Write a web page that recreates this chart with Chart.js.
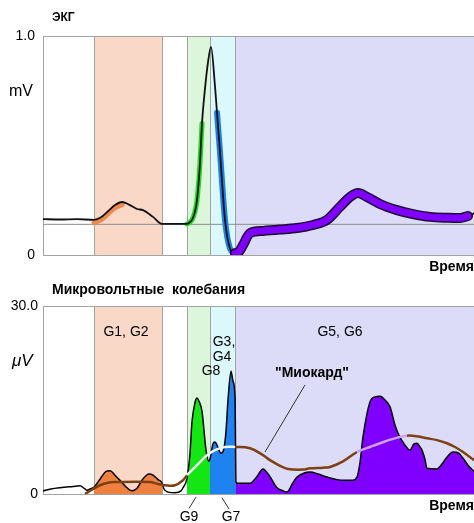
<!DOCTYPE html>
<html>
<head>
<meta charset="utf-8">
<script src="https://cdn.jsdelivr.net/npm/chart.js@4.4.1/dist/chart.umd.min.js"></script>
<style>
  body { margin: 0; background: #fff; }
  #wrap { position: relative; width: 474px; height: 523px; overflow: hidden; }
  canvas { position: absolute; left: 0; }
  #ecgChart { top: 0; }
  #microChart { top: 280px; }
</style>
</head>
<body>
<div id="wrap">
  <canvas id="ecgChart" width="474" height="280"></canvas>
  <canvas id="microChart" width="474" height="243"></canvas>
</div>
<script>
// Time axis in arbitrary units (0 .. 431)
const timeMax = 431;

// Phase zones [start, end]
const zoneG12 = [51, 119];
const zoneG9 = [144, 167];
const zoneG7 = [167, 192];
const zoneG56 = [192, 431];

// ECG, mV
const ecgTime = [0, 17, 34, 51, 58, 65, 72, 79, 86, 94, 100, 110, 119, 130, 144, 147, 150, 154, 157, 159, 162, 165, 168, 172, 174, 177, 182, 187, 192, 196, 200, 207, 220, 237, 254, 270, 284, 297, 307, 315, 324, 337, 354, 370, 387, 405, 417, 425, 431];
const ecgMv = [0.164, 0.162, 0.164, 0.16, 0.172, 0.2, 0.228, 0.242, 0.23, 0.21, 0.205, 0.174, 0.142, 0.142, 0.142, 0.15, 0.17, 0.25, 0.42, 0.6, 0.76, 0.88, 0.95, 0.77, 0.65, 0.47, 0.16, 0.03, 0.008, 0.015, 0.045, 0.1, 0.11, 0.116, 0.123, 0.137, 0.16, 0.22, 0.265, 0.283, 0.265, 0.233, 0.205, 0.187, 0.174, 0.17, 0.169, 0.178, 0.19];
const ecgBaseline = 0.14;

// coloured parts of the ECG trace [start, end]
const ecgBandG12 = [51, 79];
const ecgBandG9 = [144, 159];
const ecgBandG7 = [174, 192];
const ecgBandG56 = [192, 425];

// Microvolt oscillations, µV
const microTime = [0, 8, 17, 30, 37, 42, 44, 47, 51, 58, 63, 67, 72, 78, 84, 89, 94, 99, 106, 110, 115, 119, 121, 125, 132, 138, 140, 144, 147, 149, 152, 154, 156, 159, 163, 166, 167, 170, 172, 174, 178, 181, 183, 185, 188, 190, 192, 193, 195, 207, 214, 220, 226, 234, 240, 244, 250, 254, 262, 267, 275, 284, 300, 310, 314, 317, 320, 327, 332, 337, 342, 347, 352, 355, 362, 367, 371, 374, 377, 379, 382, 384, 394, 400, 404, 410, 416, 420, 425, 431];
const microUv = [0.5, 0.8, 1.0, 1.2, 1.3, 0.8, 0.6, 0.8, 1.1, 2.6, 3.6, 3.7, 3.0, 2.0, 1.0, 0.5, 0.9, 2.2, 3.2, 3.0, 2.3, 1.8, 0.8, 0.3, 0.2, 0.5, 1.0, 2.5, 6.5, 11.5, 14.6, 15.3, 14.8, 13.2, 7.0, 5.2, 5.6, 8.0, 8.3, 7.8, 6.5, 7.3, 10.0, 15.0, 19.6, 18.0, 15.5, 1.9, 1.7, 1.7, 2.8, 4.0, 3.0, 1.0, 0.5, 0.3, 1.8, 2.7, 3.4, 3.5, 3.2, 2.7, 2.2, 2.2, 2.7, 5.0, 9.1, 14.7, 15.5, 15.6, 15.0, 13.9, 11.0, 9.7, 7.8, 7.0, 8.0, 8.1, 7.5, 7.0, 5.5, 4.1, 4.0, 5.0, 5.9, 6.7, 6.5, 5.7, 4.6, 3.6];

// "Миокард" curve, µV
const myoTime = [42, 50, 57, 65, 72, 107, 115, 122, 132, 140, 144, 147, 157, 164, 172, 182, 192, 207, 220, 227, 237, 245, 260, 267, 280, 287, 300, 314, 327, 337, 350, 364, 374, 384, 394, 404, 412, 420, 431];
const myoUv = [0, 0.8, 1.4, 1.8, 1.9, 1.9, 1.6, 1.4, 1.4, 2.2, 3.0, 3.5, 5.1, 6.2, 7.0, 7.5, 7.5, 7.3, 6.2, 5.4, 4.5, 4.0, 3.9, 4.1, 4.2, 4.3, 5.2, 6.7, 7.5, 8.1, 8.8, 9.3, 9.2, 8.9, 8.6, 8.1, 7.5, 6.7, 5.4];

Chart.defaults.font.family = 'Arial, "Liberation Sans", sans-serif';
Chart.defaults.color = '#000';

function points(ts, vs) {
  return ts.map((t, i) => ({ x: t, y: vs[i] }));
}

function slice(ts, vs, range, shiftY = 0) {
  const out = [];
  ts.forEach((t, i) => {
    if (t >= range[0] && t <= range[1]) out.push({ x: t, y: vs[i] + shiftY });
  });
  return out;
}

function valueAt(ts, vs, t) {
  for (let i = 1; i < ts.length; i++) {
    if (t <= ts[i]) {
      const k = (t - ts[i - 1]) / (ts[i] - ts[i - 1]);
      return vs[i - 1] + k * (vs[i] - vs[i - 1]);
    }
  }
  return vs[vs.length - 1];
}

const zoneFills = [
  [zoneG12, '#f9d8c8'],
  [zoneG9, '#dbf6db'],
  [zoneG7, '#dbf8fb'],
  [zoneG56, '#dcdcf8']
];

// zone backgrounds + frame
const zonesPlugin = {
  id: 'zones',
  beforeDatasetsDraw(chart) {
    const { ctx, chartArea: a, scales: { x } } = chart;
    ctx.save();
    zoneFills.forEach(([z, color]) => {
      const x0 = x.getPixelForValue(z[0]);
      const x1 = x.getPixelForValue(z[1]);
      ctx.fillStyle = color;
      ctx.fillRect(x0, a.top, x1 - x0, a.bottom - a.top);
    });
    ctx.strokeStyle = '#a3a3a3';
    ctx.lineWidth = 1;
    [zoneG12[0], zoneG12[1], zoneG9[0], zoneG7[0], zoneG56[0]].forEach(t => {
      const px = Math.round(x.getPixelForValue(t)) + 0.5;
      ctx.beginPath();
      ctx.moveTo(px, a.top);
      ctx.lineTo(px, a.bottom);
      ctx.stroke();
    });
    ctx.strokeRect(a.left + 0.5, a.top + 0.5, a.right - a.left + 2, a.bottom - a.top);
    ctx.restore();
  }
};

// free text and pointer lines
const notesPlugin = {
  id: 'notes',
  afterDraw(chart, args, opts) {
    const { ctx, scales: { x, y } } = chart;
    ctx.save();
    (opts.lines || []).forEach(l => {
      ctx.strokeStyle = '#333';
      ctx.lineWidth = 1;
      ctx.beginPath();
      ctx.moveTo(x.getPixelForValue(l.from[0]), y.getPixelForValue(l.from[1]));
      ctx.lineTo(x.getPixelForValue(l.to[0]), y.getPixelForValue(l.to[1]));
      ctx.stroke();
    });
    (opts.items || []).forEach(it => {
      ctx.font = it.font;
      ctx.fillStyle = '#000';
      ctx.textAlign = it.align || 'center';
      ctx.textBaseline = 'middle';
      const px = it.t !== undefined ? x.getPixelForValue(it.t) : it.px;
      const py = it.v !== undefined ? y.getPixelForValue(it.v) : it.py;
      ctx.fillText(it.text, px, py);
    });
    ctx.restore();
  }
};

function baseOptions(yMax, tickPad, titlePad, xHeight, topPad) {
  return {
    responsive: false,
    animation: false,
    events: [],
    layout: { padding: { top: topPad, left: 0, right: 0, bottom: 0 } },
    elements: { point: { radius: 0 } },
    scales: {
      x: {
        type: 'linear',
        min: 0,
        max: timeMax,
        ticks: { display: false },
        grid: { display: false },
        border: { display: false },
        title: {
          display: true,
          text: 'Время',
          align: 'end',
          font: { size: 14, weight: 'bold' },
          padding: { top: 0, bottom: titlePad }
        },
        afterFit: s => { s.height = xHeight; }
      },
      y: {
        min: 0,
        max: yMax,
        ticks: {
          stepSize: yMax,
          font: { size: 14 },
          padding: tickPad,
          callback: v => (v === 0 ? '0' : v.toFixed(1))
        },
        grid: { display: false, drawTicks: false },
        border: { display: false },
        afterFit: s => { s.width = 43; }
      }
    }
  };
}

// ---- ECG chart ----
const ecgOptions = baseOptions(1, 8, 4, 25, 36);
ecgOptions.plugins = {
  legend: { display: false },
  tooltip: { enabled: false },
  notes: {
    items: [
      { text: 'ЭКГ', px: 52, py: 18, font: 'bold 12px Arial, "Liberation Sans"', align: 'left' },
      { text: 'mV', px: 9, py: 92, font: '16px Arial, "Liberation Sans"', align: 'left' }
    ]
  }
};

function band(data, color, width, order) {
  return {
    data: data,
    borderColor: color,
    borderWidth: width,
    borderCapStyle: 'round',
    cubicInterpolationMode: 'monotone',
    fill: false,
    order: order
  };
}

new Chart(document.getElementById('ecgChart'), {
  type: 'line',
  data: {
    datasets: [
      band([{ x: 0, y: ecgBaseline }, { x: timeMax, y: ecgBaseline }], '#8c8c8c', 1, 10),
      band(slice(ecgTime, ecgMv, ecgBandG12, -0.012), '#ee8a50', 5, 3),
      band(slice(ecgTime, ecgMv, ecgBandG9), '#22dd22', 5, 3),
      band(slice(ecgTime, ecgMv, ecgBandG7), '#1e80ea', 6, 3),
      band(points(ecgTime, ecgMv), '#111', 1.8, 2),
      band(slice(ecgTime, ecgMv, ecgBandG56), '#1c0a30', 10, 1),
      band(slice(ecgTime, ecgMv, ecgBandG56), '#8000ff', 7, 0)
    ]
  },
  options: ecgOptions,
  plugins: [zonesPlugin, notesPlugin]
});

// ---- microvolt chart ----
function microFill(ctx) {
  const t = ctx.p0.parsed.x;
  if (t >= zoneG12[0] && t < zoneG12[1]) return '#f08040';
  if (t >= zoneG9[0] && t < zoneG9[1]) return '#14e614';
  if (t >= zoneG7[0] && t < zoneG7[1] + 1) return '#1e82f0';
  if (t >= zoneG56[0] + 1) return '#8000ff';
  return 'rgba(0,0,0,0)';
}

function myoColor(ctx) {
  const m = (ctx.p0.parsed.x + ctx.p1.parsed.x) / 2;
  if (m >= zoneG9[0] && m < zoneG56[0]) return '#eef8ec';
  if (m >= zoneG56[0] && valueAt(microTime, microUv, m) > valueAt(myoTime, myoUv, m)) return '#c9a3f2';
  return '#7d4114';
}

const microOptions = baseOptions(30, 5, 8, 29, 26);
microOptions.plugins = {
  legend: { display: false },
  tooltip: { enabled: false },
  notes: {
    items: [
      { text: 'Микровольтные  колебания', px: 52, py: 10, font: 'bold 14px Arial, "Liberation Sans"', align: 'left' },
      { text: 'μV', px: 12, py: 81, font: 'italic 17px Arial, "Liberation Sans"', align: 'left' },
      { text: 'G1, G2', t: 83, v: 25.8, font: '14px Arial, "Liberation Sans"' },
      { text: 'G3,', t: 181, v: 24.2, font: '14px Arial, "Liberation Sans"' },
      { text: 'G4', t: 179, v: 21.9, font: '14px Arial, "Liberation Sans"' },
      { text: 'G8', t: 168, v: 19.6, font: '14px Arial, "Liberation Sans"' },
      { text: 'G5, G6', t: 297, v: 25.8, font: '14px Arial, "Liberation Sans"' },
      { text: '"Миокард"', t: 269, v: 19.3, font: 'bold 14px Arial, "Liberation Sans"' },
      { text: 'G9', t: 146, v: -3.7, font: '14px Arial, "Liberation Sans"' },
      { text: 'G7', t: 188, v: -3.7, font: '14px Arial, "Liberation Sans"' }
    ],
    lines: [
      { from: [262, 17.4], to: [222, 6.7] },
      { from: [146, -2.3], to: [153, -0.5] },
      { from: [186, -2.4], to: [179, -0.6] }
    ]
  }
};

new Chart(document.getElementById('microChart'), {
  type: 'line',
  data: {
    datasets: [
      {
        data: points(microTime, microUv),
        borderColor: '#000',
        borderWidth: 1.5,
        backgroundColor: 'rgba(0,0,0,0)',
        fill: 'origin',
        cubicInterpolationMode: 'monotone',
        segment: { backgroundColor: microFill },
        order: 1
      },
      {
        data: points(myoTime, myoUv),
        borderColor: '#7d4114',
        borderWidth: 2.5,
        fill: false,
        tension: 0.4,
        segment: { borderColor: myoColor },
        order: 0
      }
    ]
  },
  options: microOptions,
  plugins: [zonesPlugin, notesPlugin]
});
</script>
</body>
</html>
